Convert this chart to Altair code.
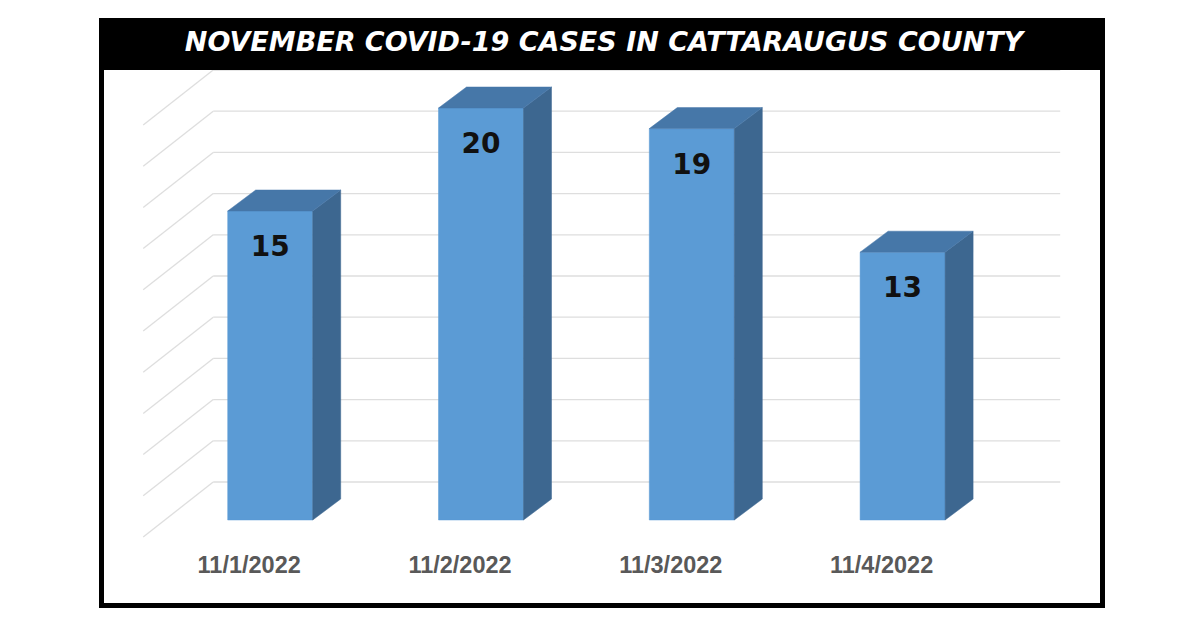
import altair as alt
import pandas as pd

# ---- data ----
dates = ["11/1/2022", "11/2/2022", "11/3/2022", "11/4/2022"]
cases = [15, 20, 19, 13]
grid_values = [0, 2, 4, 6, 8, 10, 12, 14, 16, 18, 20]
title_text = "NOVEMBER COVID-19 CASES IN CATTARAUGUS COUNTY"

# ---- layout (pixels) ----
W, H = 1001, 585
PX_PER_CAT = 210.8
PX_PER_UNIT = 20.6
X0_PX = 168.7   # plot-x of the first category centre
Y0_PX = 499.5   # plot-y of value 0 on the front plane

x_dom = [-X0_PX / PX_PER_CAT, (W - X0_PX) / PX_PER_CAT]
y_dom = [-(H - Y0_PX) / PX_PER_UNIT, Y0_PX / PX_PER_UNIT]


def ux(px):
    return px / PX_PER_CAT


def uy(px):
    return px / PX_PER_UNIT


HW = ux(42.5)          # half width of bar front
DEP_X, DEP_Y = ux(28), uy(21)   # bar depth
WALL_FRONT_X, WALL_BACK_X, GRID_END_X = ux(-127), ux(-57), ux(790)
FLOOR_FRONT_Y, FLOOR_BACK_Y = uy(-17), uy(38)
LABEL_SHIFT = ux(-21)

xs = alt.Scale(domain=x_dom, nice=False, zero=False)
ys = alt.Scale(domain=y_dom, nice=False, zero=False)

FRONT = "#5B9BD5"
SIDE = "#3D6790"
TOP = "#4677A8"
GRID = "#DEDEDE"

# ---- tables derived from the arrays ----
bars = pd.DataFrame({"idx": range(len(dates)), "date": dates, "cases": cases})
bars["x1"] = bars["idx"] - HW
bars["x2"] = bars["idx"] + HW
bars["lx"] = bars["idx"] + LABEL_SHIFT

side_rows, top_rows = [], []
for i, v in zip(bars["idx"], cases):
    for k in (0, 1):
        side_rows.append({"idx": i, "x": i + HW + k * DEP_X,
                          "y": 0 + k * DEP_Y, "y2": v + k * DEP_Y})
        top_rows.append({"idx": i, "y": v + k * DEP_Y,
                         "x": i - HW + k * DEP_X, "x2": i + HW + k * DEP_X})
side = pd.DataFrame(side_rows)
top = pd.DataFrame(top_rows)

grid = pd.DataFrame({"v": grid_values})
grid["yb"] = grid["v"] + FLOOR_BACK_Y
grid["yf"] = grid["v"] + FLOOR_FRONT_Y
grid["xb"] = WALL_BACK_X
grid["xf"] = WALL_FRONT_X
grid["xe"] = GRID_END_X

one = pd.DataFrame({"t": [title_text]})

# ---- layers ----
hgrid = alt.Chart(grid).mark_rule(color=GRID, strokeWidth=1.3).encode(
    x=alt.X("xb:Q", scale=xs, axis=None), x2="xe:Q",
    y=alt.Y("yb:Q", scale=ys, axis=None))

dgrid = alt.Chart(grid).mark_rule(color=GRID, strokeWidth=1.3).encode(
    x=alt.X("xf:Q", scale=xs, axis=None), x2="xb:Q",
    y=alt.Y("yf:Q", scale=ys, axis=None), y2="yb:Q")

front = alt.Chart(bars).mark_rect(color=FRONT, stroke=FRONT, strokeWidth=0.5).encode(
    x=alt.X("x1:Q", scale=xs, axis=None), x2="x2:Q",
    y=alt.Y("cases:Q", scale=ys, axis=None), y2=alt.Y2(datum=0))

side_l = alt.Chart(side).mark_area(color=SIDE, orient="vertical",
                                   stroke=SIDE, strokeWidth=0.5).encode(
    x=alt.X("x:Q", scale=xs, axis=None),
    y=alt.Y("y:Q", scale=ys, axis=None), y2="y2:Q",
    detail="idx:N")

top_l = alt.Chart(top).mark_area(color=TOP, orient="horizontal",
                                 stroke=TOP, strokeWidth=0.5).encode(
    y=alt.Y("y:Q", scale=ys, axis=None),
    x=alt.X("x:Q", scale=xs, axis=None), x2="x2:Q",
    detail="idx:N")

values = alt.Chart(bars).mark_text(
    font="DejaVu Sans", fontWeight="bold", fontSize=28, color="#111111",
    baseline="alphabetic", align="center", dy=45).encode(
    x=alt.X("idx:Q", scale=xs, axis=None),
    y=alt.Y("cases:Q", scale=ys, axis=None),
    text="cases:Q")

cats = alt.Chart(bars).mark_text(
    font="Liberation Sans", fontWeight="bold", fontSize=23.5, color="#595959",
    baseline="alphabetic", align="center").encode(
    x=alt.X("lx:Q", scale=xs, axis=None),
    y=alt.value(552.2),
    text="date:N")

title_bar = alt.Chart(one).mark_rect(color="black").encode(
    x=alt.value(0), x2=alt.value(W), y=alt.value(0), y2=alt.value(49.5))

title = alt.Chart(one).mark_text(
    font="DejaVu Sans", fontWeight="bold", fontStyle="italic", fontSize=27,
    color="white", baseline="alphabetic", align="center").encode(
    x=alt.value(502.5), y=alt.value(30.5), text="t:N")

chart = alt.layer(hgrid, dgrid, front, side_l, top_l, values, cats,
                  title_bar, title).properties(
    width=W, height=H,
    autosize=alt.AutoSizeParams(type="none"),
    padding={"left": 93.5, "top": 12.5, "right": 5, "bottom": 5},
    background="white",
).configure_view(stroke="black", strokeWidth=5)

chart.save("out.html", embed_options={"renderer": "svg", "actions": False})
